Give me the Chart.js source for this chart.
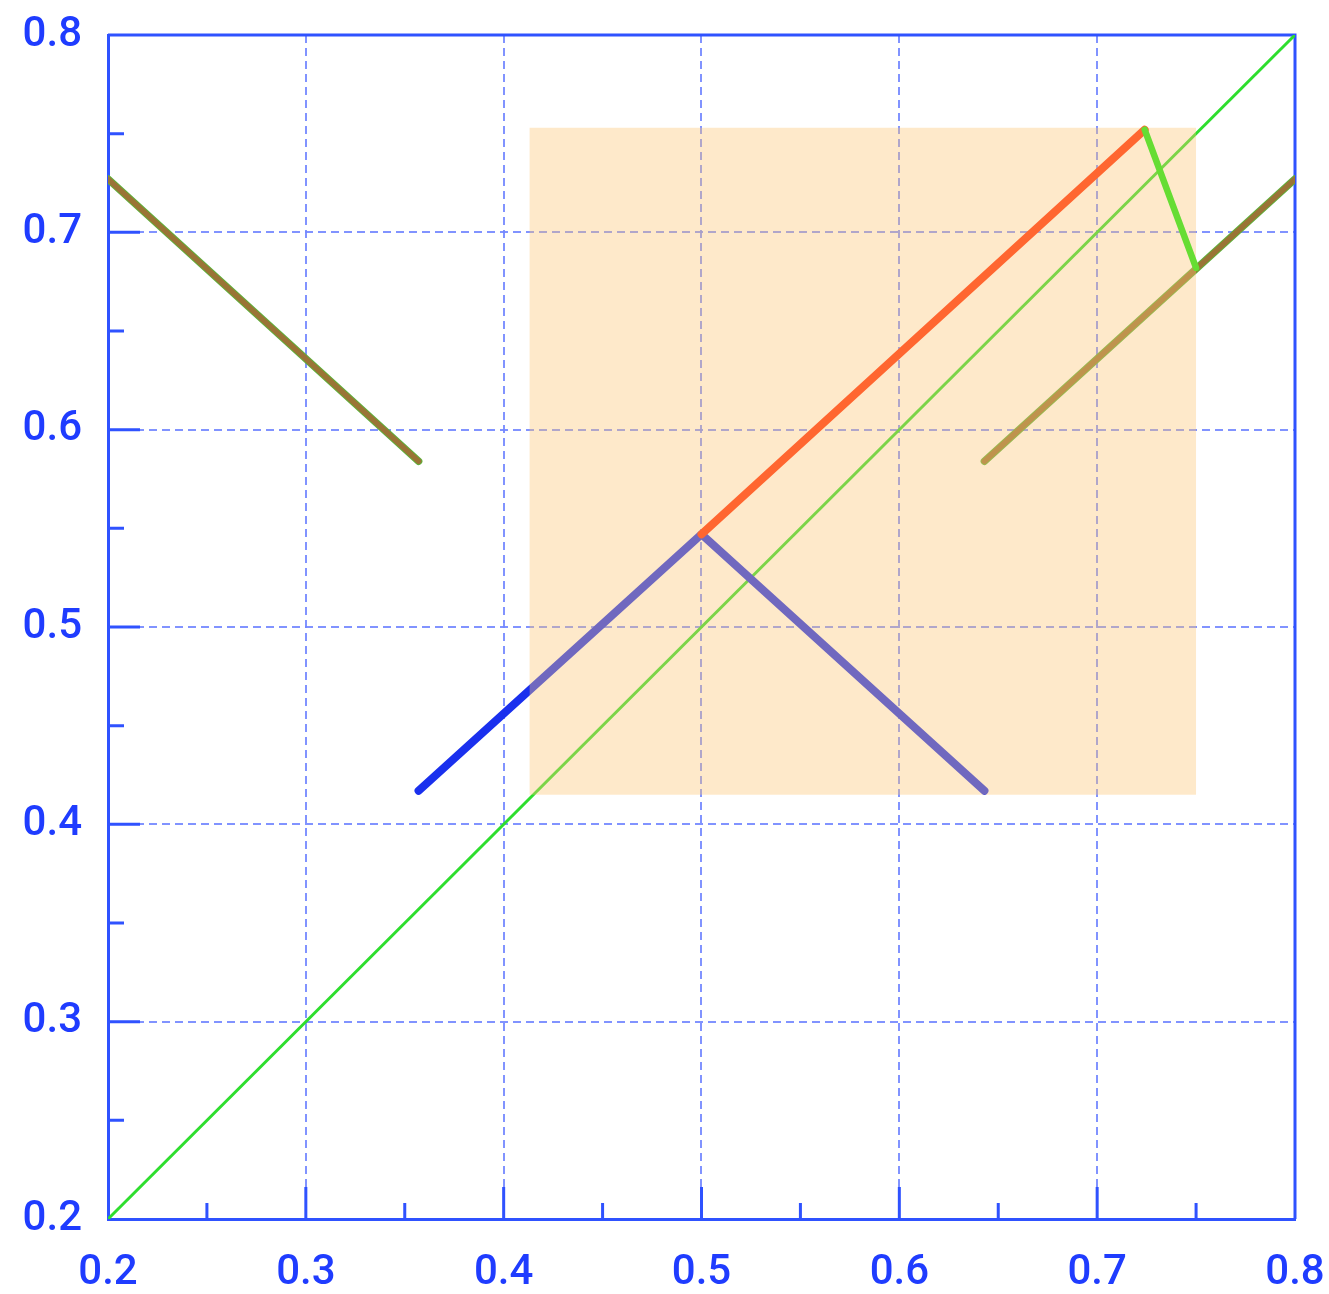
<!DOCTYPE html>
<html>
<head>
<meta charset="utf-8">
<script src="https://cdn.jsdelivr.net/npm/chart.js@4.4.1/dist/chart.umd.min.js"></script>
<style>
  html, body { margin: 0; padding: 0; background: #ffffff; }
  #wrap { width: 1329px; height: 1294px; }
</style>
</head>
<body>
<div id="wrap"><canvas id="chart" width="1329" height="1294"></canvas></div>
<script>
// Axis ticks (both axes share the same range)
const majorTicks = [0.2, 0.3, 0.4, 0.5, 0.6, 0.7, 0.8];
const majorTickLabels = ['0.2', '0.3', '0.4', '0.5', '0.6', '0.7', '0.8'];
const minorTicks = [0.25, 0.35, 0.45, 0.55, 0.65, 0.75];

// Curves, as [x, y] pairs
const identityLine = [[0.2, 0.2], [0.8, 0.8]];
const leftBranch   = [[0.2, 0.727], [0.357, 0.584]];
const rightBranch  = [[0.643, 0.584], [0.8, 0.727]];
const tentPath     = [[0.357, 0.417], [0.5, 0.547], [0.643, 0.417]];
const risePath     = [[0.5, 0.547], [0.724, 0.752]];
const dropPath     = [[0.724, 0.752], [0.75, 0.682]];

// Shaded region bounds
const shadeX = [0.413, 0.75];
const shadeY = [0.415, 0.753];

const AXIS_BLUE = '#2f52ff';
const LABEL_BLUE = '#1f3cff';
const GRID_BLUE = 'rgba(115,135,255,0.9)';

const pts = arr => arr.map(([x, y]) => ({ x, y }));

function lineSet(data, color, width, cap) {
  return {
    data: pts(data),
    borderColor: color,
    borderWidth: width,
    borderCapStyle: cap || 'round',
    borderJoinStyle: 'round',
    pointRadius: 0,
    pointHoverRadius: 0,
    fill: false,
    tension: 0
  };
}

// Solid frame on the top/right edges and inward tick marks on left/bottom
const frameAndTicks = {
  id: 'frameAndTicks',
  beforeDatasetsDraw(chart) {
    const { ctx, chartArea: a, scales: { x, y } } = chart;
    ctx.save();
    ctx.strokeStyle = AXIS_BLUE;
    ctx.lineWidth = 3;
    ctx.lineCap = 'butt';
    ctx.beginPath();
    ctx.moveTo(a.left, a.top);
    ctx.lineTo(a.right, a.top);
    ctx.lineTo(a.right, a.bottom);
    ctx.stroke();

    ctx.beginPath();
    majorTicks.slice(1, -1).forEach(v => {
      const px = x.getPixelForValue(v);
      ctx.moveTo(px, a.bottom);
      ctx.lineTo(px, a.bottom - 32);
      const py = y.getPixelForValue(v);
      ctx.moveTo(a.left, py);
      ctx.lineTo(a.left + 32, py);
    });
    minorTicks.forEach(v => {
      const px = x.getPixelForValue(v);
      ctx.moveTo(px, a.bottom);
      ctx.lineTo(px, a.bottom - 16);
      const py = y.getPixelForValue(v);
      ctx.moveTo(a.left, py);
      ctx.lineTo(a.left + 16, py);
    });
    ctx.stroke();
    ctx.restore();
  }
};

function axis(position, size, pad) {
  const horizontal = position === 'bottom';
  return {
    type: 'linear',
    position,
    min: 0.2,
    max: 0.8,
    afterBuildTicks: s => { s.ticks = majorTicks.map(v => ({ value: v })); },
    afterFit: s => {
      if (horizontal) { s.height = size; s.paddingLeft = 0; s.paddingRight = 0; }
      else { s.width = size; s.paddingTop = 0; s.paddingBottom = 0; }
    },
    grid: {
      color: GRID_BLUE,
      lineWidth: 2,
      drawTicks: false
    },
    border: {
      display: true,
      color: AXIS_BLUE,
      width: 3,
      dash: [8, 5]
    },
    ticks: {
      autoSkip: false,
      maxRotation: 0,
      padding: pad,
      color: LABEL_BLUE,
      font: { family: "Roboto, 'Liberation Sans', Arial, sans-serif", size: 42, weight: '500' },
      callback: (v) => {
        const i = majorTicks.findIndex(t => Math.abs(t - v) < 1e-9);
        return i >= 0 ? majorTickLabels[i] : '';
      }
    }
  };
}

// Datasets listed top-most first
const datasets = [
  lineSet(dropPath, '#66dd33', 6.5),
  lineSet(risePath, '#ff6630', 8),
  {
    data: [{ x: shadeX[0], y: shadeY[1] }, { x: shadeX[1], y: shadeY[1] }],
    borderWidth: 0,
    borderColor: 'rgba(0,0,0,0)',
    backgroundColor: 'rgba(252,198,115,0.38)',
    pointRadius: 0,
    fill: { value: shadeY[0] },
    tension: 0
  },
  lineSet(tentPath, '#1a30ee', 8),
  lineSet(rightBranch, '#9a7436', 5.5),
  lineSet(rightBranch, '#5fb03a', 7.5),
  lineSet(leftBranch, '#9a7436', 5.5),
  lineSet(leftBranch, '#5fb03a', 7.5),
  lineSet(identityLine, '#2ede2e', 3, 'butt')
];

new Chart(document.getElementById('chart'), {
  type: 'line',
  data: { datasets },
  options: {
    responsive: false,
    animation: false,
    devicePixelRatio: 1,
    layout: { padding: { top: 35, right: 34, left: 0, bottom: 0 } },
    plugins: {
      legend: { display: false },
      tooltip: { enabled: false }
    },
    scales: {
      x: axis('bottom', 75, 29),
      y: axis('left', 108, 26)
    }
  },
  plugins: [frameAndTicks]
});
</script>
</body>
</html>
